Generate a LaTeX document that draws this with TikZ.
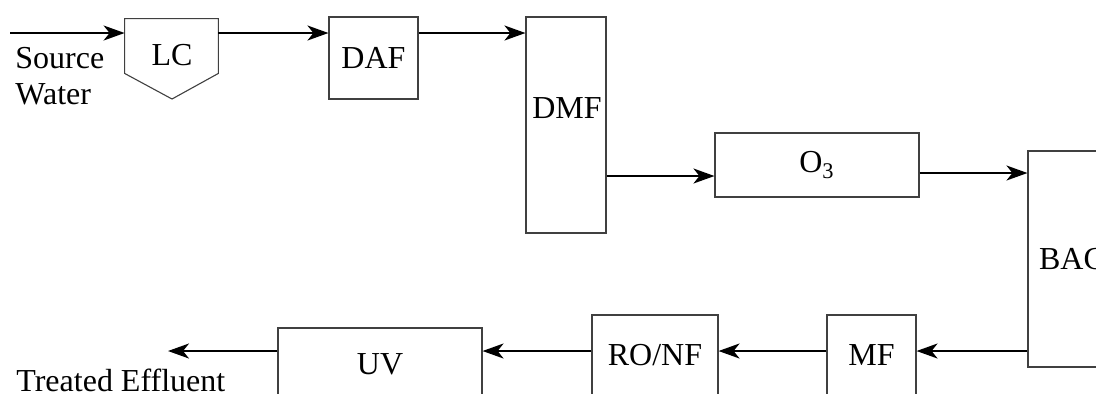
\documentclass[tikz,border=0pt]{standalone}
\usepackage{fontspec}
\setmainfont{Liberation Serif}
\usetikzlibrary{arrows.meta}

\tikzset{
  unit box/.style={draw=black!75, line width=0.55pt, inner sep=0pt},
  flow/.style={line width=1pt, -{Stealth[length=10.5pt, width=7.5pt, inset=3pt]}},
}

\begin{document}
\begin{tikzpicture}[x=0.5pt, y=-0.5pt, font=\fontsize{16}{17}\selectfont]
    \useasboundingbox (0,0) rectangle (1096,393);
    \clip (0,0) rectangle (1096,393);

    % flujo superior
    \coordinate (inlet) at (10,33);
    \coordinate (upper) at (0,33);
    \coordinate (mid1)  at (0,176);
    \coordinate (mid2)  at (0,173);
    \coordinate (lower) at (0,351);
    \coordinate (outlet) at (168,351);

    % LC (forma de pentagono)
    \node[inner sep=0pt, minimum width=46.5pt, minimum height=27pt] (lc) at (171.5,46) {};
    \coordinate (lctip) at (172,99);
    \draw[black!75, line width=0.55pt] (lc.north west) -- (lc.north east) -- (lc.south east)
        -- (lctip) -- (lc.south west) -- cycle;
    \node (lctext) at (172,55) {LC};

    \node[unit box, minimum width=44.5pt, minimum height=41pt] (daf) at (373.5,58) {DAF};
    \node[unit box, minimum width=40pt, minimum height=108pt] (dmf) at (566,125) {};
    \node (dmftext) at (567,108) {DMF};
    \node[unit box, minimum width=102pt, minimum height=32pt] (o3) at (817,165) {O\textsubscript{3}};
    \node[unit box, minimum width=44pt, minimum height=108pt] (bac) at (1072,259) {BAC};

    % fila inferior
    \node[unit box, minimum width=44.5pt, minimum height=40pt] (mf) at (871.5,355) {MF};
    \node[unit box, minimum width=63pt, minimum height=40pt] (ronf) at (655,355) {RO/NF};
    \node[unit box, minimum width=102pt, minimum height=36pt] (uv) at (380,364) {UV};

    % textos de entrada y salida
    \node[anchor=north west, align=left, inner sep=0pt] (source) at (15,47) {Source\\[1pt]Water};
    \node[anchor=base west, inner sep=0pt] (effluent) at (16,391) {Treated Effluent};

    % conexiones
    \draw[flow] (inlet) -- (lc.west |- upper);
    \draw[flow] (lc.east |- upper) -- (daf.west |- upper);
    \draw[flow] (daf.east |- upper) -- (dmf.west |- upper);
    \draw[flow] (dmf.east |- mid1) -- (o3.west |- mid1);
    \draw[flow] (o3.east |- mid2) -- (bac.west |- mid2);
    \draw[flow] (bac.west |- lower) -- (mf.east |- lower);
    \draw[flow] (mf.west |- lower) -- (ronf.east |- lower);
    \draw[flow] (ronf.west |- lower) -- (uv.east |- lower);
    \draw[flow] (uv.west |- lower) -- (outlet);
\end{tikzpicture}
\end{document}
